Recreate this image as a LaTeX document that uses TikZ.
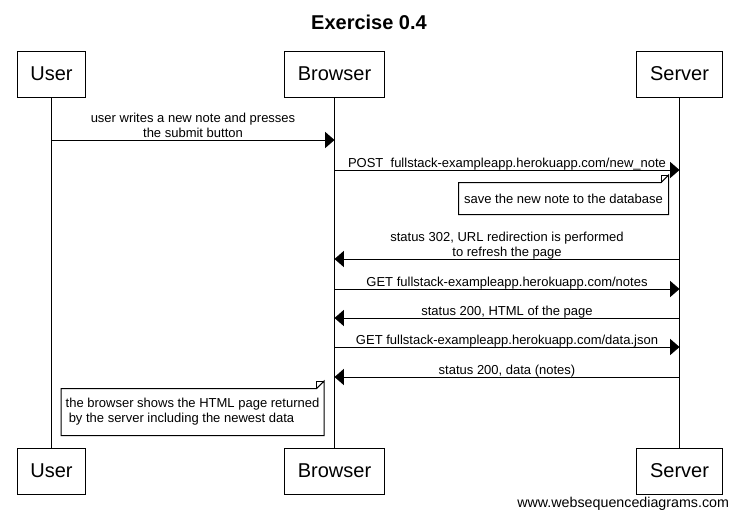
\documentclass[tikz,border=0pt]{standalone}
\usepackage{fontspec}
\setmainfont{Liberation Sans}
\usetikzlibrary{arrows.meta}

\tikzset{every picture/.style={line width=0.75pt}}
\tikzset{
  actor/.style={draw, inner xsep=10pt, minimum height=34.5pt, font=\fontsize{15}{18}\selectfont},
  msg/.style={-{Triangle[length=7pt,width=12pt]}},
  msglabel/.style={inner sep=0pt, align=center, font=\fontsize{9.75}{11.25}\selectfont, execute at end node=\strut},
  notetext/.style={inner sep=0pt, align=left, font=\fontsize{9.75}{11.25}\selectfont}
}

\begin{document}
\begin{tikzpicture}[x=0.75pt,y=0.75pt,yscale=-1,xscale=1]
\useasboundingbox (0,0) rectangle (738,518);

% Title
\draw (369,22) node [font=\bfseries\fontsize{15}{18}\selectfont] (title) {Exercise 0.4};

% Actors (top)
\node [actor] (userT) at (51.5,74) {User};
\node [actor] (browserT) at (334.5,74) {Browser};
\node [actor] (serverT) at (679.5,74) {Server};
% Actors (bottom)
\node [actor] (userB) at (51.5,471) {User};
\node [actor] (browserB) at (334.5,471) {Browser};
\node [actor] (serverB) at (679.5,471) {Server};

% Lifelines
\draw (userT) -- (userB);
\draw (browserT) -- (browserB);
\draw (serverT) -- (serverB);

% Message ends on the lifelines
\coordinate (u1) at (userT.south |- 0,140);
\coordinate (b1) at (browserT.south |- 0,140);
\coordinate (b2) at (browserT.south |- 0,170);
\coordinate (s2) at (serverT.south |- 0,170);
\coordinate (s3) at (serverT.south |- 0,259);
\coordinate (b3) at (browserT.south |- 0,259);
\coordinate (b4) at (browserT.south |- 0,289);
\coordinate (s4) at (serverT.south |- 0,289);
\coordinate (s5) at (serverT.south |- 0,318);
\coordinate (b5) at (browserT.south |- 0,318);
\coordinate (b6) at (browserT.south |- 0,347);
\coordinate (s6) at (serverT.south |- 0,347);
\coordinate (s7) at (serverT.south |- 0,377);
\coordinate (b7) at (browserT.south |- 0,377);

% Connection
\draw [msg] (u1) -- node [msglabel, above=-1.6pt] (l1) {user writes a new note and presses\\the submit button} (b1);
% Connection
\draw [msg] (b2) -- node [msglabel, above=-1.6pt] (l2) {POST\ \ fullstack-exampleapp.herokuapp.com/new\_note} (s2);

% Note
\node [notetext, minimum width=156.75pt, minimum height=23.25pt] (savenote) at (563.5,198.5) {save the new note to the database};
\draw (savenote.south west) -- (savenote.north west) -- ([xshift=-5.5pt]savenote.north east) -- ([yshift=-5.5pt]savenote.north east) -- (savenote.south east) -- cycle;
\draw ([xshift=-5.5pt]savenote.north east) |- ([yshift=-5.5pt]savenote.north east);

% Connection
\draw [msg] (s3) -- node [msglabel, above=-1.6pt] (l3) {status 302, URL redirection is performed\\to refresh the page} (b3);
% Connection
\draw [msg] (b4) -- node [msglabel, above=-1.6pt] (l4) {GET fullstack-exampleapp.herokuapp.com/notes} (s4);
% Connection
\draw [msg] (s5) -- node [msglabel, above=-1.6pt] (l5) {status 200, HTML of the page} (b5);
% Connection
\draw [msg] (b6) -- node [msglabel, above=-1.6pt] (l6) {GET fullstack-exampleapp.herokuapp.com/data.json} (s6);
% Connection
\draw [msg] (s7) -- node [msglabel, above=-1.6pt] (l7) {status 200, data (notes)} (b7);

% Note
\node [notetext, minimum width=196.5pt, minimum height=34.5pt] (shownote) at (192.5,412) {the browser shows the HTML page returned\\\hspace*{2.3pt}by the server including the newest data};
\draw (shownote.south west) -- (shownote.north west) -- ([xshift=-5.5pt]shownote.north east) -- ([yshift=-5.5pt]shownote.north east) -- (shownote.south east) -- cycle;
\draw ([xshift=-5.5pt]shownote.north east) |- ([yshift=-5.5pt]shownote.north east);

% Credit
\node [anchor=base east, font=\fontsize{10.7}{12}\selectfont] (credit) at (734,507) {www.websequencediagrams.com};

\end{tikzpicture}
\end{document}
